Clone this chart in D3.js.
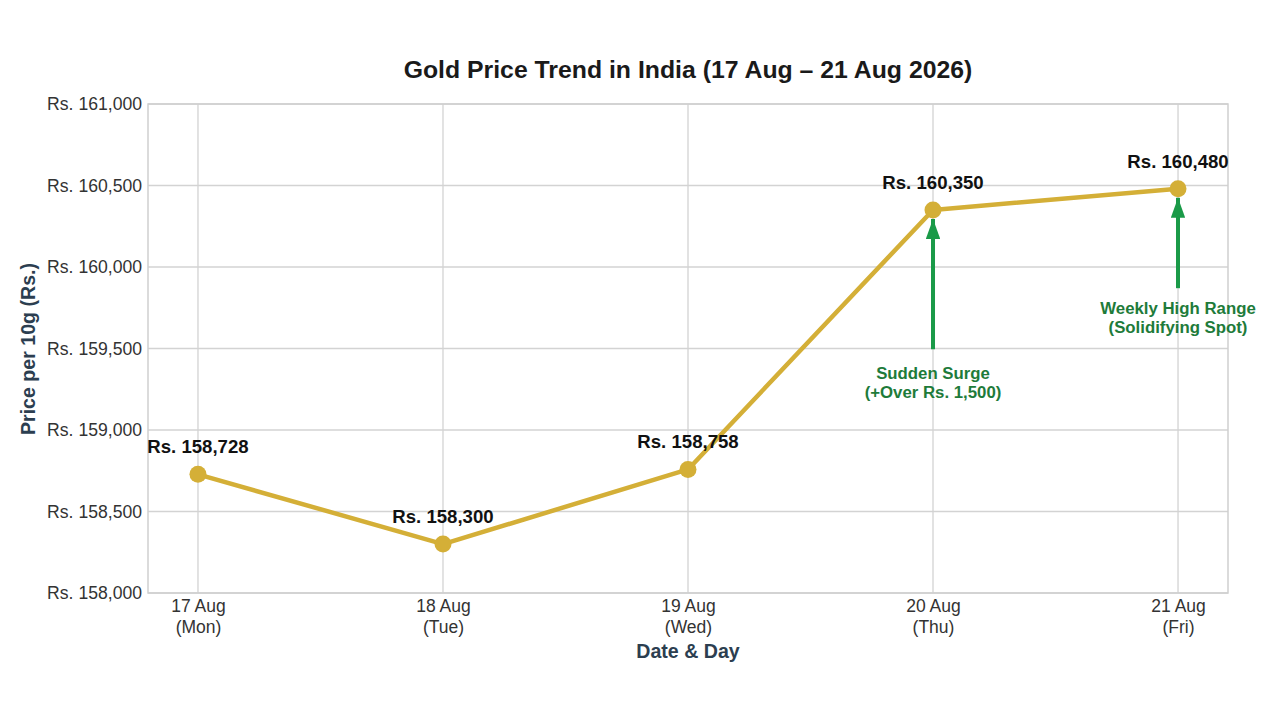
<!DOCTYPE html>
<html><head><meta charset="utf-8">
<script src="https://cdn.jsdelivr.net/npm/d3@7/dist/d3.min.js"></script>
<style>body{margin:0;background:#fff;}svg{display:block;font-family:"Liberation Sans",Arial,sans-serif;}</style>
</head><body><svg id="c" width="1280" height="720"></svg>
<script>
const dates = ["17 Aug", "18 Aug", "19 Aug", "20 Aug", "21 Aug"];
const days = ["(Mon)", "(Tue)", "(Wed)", "(Thu)", "(Fri)"];
const prices = [158728, 158300, 158758, 160350, 160480];
const yTicks = [158000, 158500, 159000, 159500, 160000, 160500, 161000];
const annotations = [
  {idx: 3, lines: ["Sudden Surge", "(+Over Rs. 1,500)"], from: 159495, textY: 373},
  {idx: 4, lines: ["Weekly High Range", "(Solidifying Spot)"], from: 159870, textY: 308}
];

const svg = d3.select("#c");
const L = 148, R = 1228, T = 104, B = 593;
const x = d3.scalePoint().domain(dates).range([L, R]).padding(0.204);
const y = d3.scaleLinear().domain([158000, 161000]).range([B, T]);
const fmt = v => "Rs. " + d3.format(",")(v);
const grid = "#d3d3d3";

// grid
svg.append("g").selectAll("line").data(yTicks).join("line")
  .attr("x1", L).attr("x2", R).attr("y1", d => y(d)).attr("y2", d => y(d))
  .attr("stroke", grid).attr("stroke-width", 1.3);
svg.append("g").selectAll("line").data(dates).join("line")
  .attr("x1", d => x(d)).attr("x2", d => x(d)).attr("y1", T).attr("y2", B)
  .attr("stroke", grid).attr("stroke-width", 1.3);
svg.append("rect").attr("x", L).attr("y", T).attr("width", R - L).attr("height", B - T)
  .attr("fill", "none").attr("stroke", "#cfcfcf").attr("stroke-width", 1.5);

// axes
const ya = svg.append("g").attr("transform", `translate(${L},0)`)
  .call(d3.axisLeft(y).tickValues(yTicks).tickFormat(fmt).tickSize(0).tickPadding(6));
ya.select(".domain").remove();
ya.selectAll("text").attr("font-size", 17.6).attr("fill", "#333").attr("font-family", "Liberation Sans, Arial, sans-serif");

const xa = svg.append("g").attr("transform", `translate(0,${B})`)
  .call(d3.axisBottom(x).tickSize(0).tickFormat(() => ""));
xa.select(".domain").remove();
xa.selectAll(".tick").each(function(d, i) {
  const t = d3.select(this).append("text").attr("fill", "#333").attr("font-size", 17.5)
    .attr("text-anchor", "middle").attr("font-family", "Liberation Sans, Arial, sans-serif");
  t.append("tspan").attr("x", 0).attr("y", 19).text(d);
  t.append("tspan").attr("x", 0).attr("y", 40).text(days[i]);
});

// title & labels
svg.append("text").attr("x", 688).attr("y", 78).attr("text-anchor", "middle")
  .attr("font-size", 24.8).attr("font-weight", "bold").attr("fill", "#1a1a1a")
  .text("Gold Price Trend in India (17 Aug \u2013 21 Aug 2026)");
svg.append("text").attr("x", 688).attr("y", 658).attr("text-anchor", "middle")
  .attr("font-size", 19.6).attr("font-weight", "bold").attr("fill", "#2c3e50").text("Date & Day");
svg.append("text").attr("transform", "translate(35,349) rotate(-90)").attr("text-anchor", "middle")
  .attr("font-size", 19.6).attr("font-weight", "bold").attr("fill", "#2c3e50").text("Price per 10g (Rs.)");

// line
const pts = dates.map((d, i) => ({d, v: prices[i]}));
svg.append("path").datum(pts)
  .attr("d", d3.line().x(p => x(p.d)).y(p => y(p.v)))
  .attr("fill", "none").attr("stroke", "#d4af37").attr("stroke-width", 4.5).attr("stroke-linejoin", "round");
svg.append("g").selectAll("circle").data(pts).join("circle")
  .attr("cx", p => x(p.d)).attr("cy", p => y(p.v)).attr("r", 8.5).attr("fill", "#d4af37");
svg.append("g").selectAll("text").data(pts).join("text")
  .attr("x", p => x(p.d)).attr("y", p => y(p.v) - 21).attr("text-anchor", "middle")
  .attr("font-size", 18.6).attr("font-weight", "bold").attr("fill", "#111").text(p => fmt(p.v));

// annotations
const defs = svg.append("defs");
defs.append("marker").attr("id", "ah").attr("viewBox", "0 0 10 10").attr("refX", 10).attr("refY", 5)
  .attr("markerWidth", 5).attr("markerHeight", 3.6).attr("markerUnits", "strokeWidth").attr("orient", "auto")
  .attr("preserveAspectRatio", "none")
  .append("path").attr("d", "M0,0 L10,5 L0,10 z").attr("fill", "#1a9a48");
annotations.forEach(a => {
  const cx = x(dates[a.idx]);
  svg.append("line").attr("x1", cx).attr("x2", cx).attr("y1", y(a.from)).attr("y2", y(prices[a.idx]) + 9)
    .attr("stroke", "#1a9a48").attr("stroke-width", 4).attr("marker-end", "url(#ah)");
  const t = svg.append("text").attr("text-anchor", "middle").attr("font-size", 16.8)
    .attr("font-weight", "bold").attr("fill", "#1e7b3a");
  a.lines.forEach((l, k) => t.append("tspan").attr("x", cx).attr("y", a.textY + 6 + k * 19).text(l));
});
</script></body></html>
